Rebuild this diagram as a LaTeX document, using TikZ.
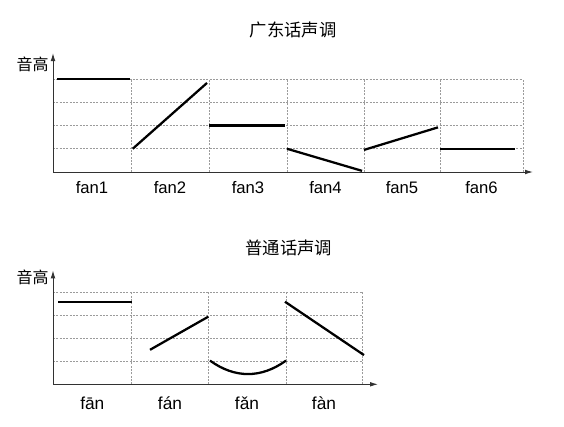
\documentclass[tikz,border=0pt]{standalone}
\usepackage{fontspec}
\setmainfont{Liberation Sans}
\newfontfamily\cjk{Noto Sans CJK SC}
\usetikzlibrary{arrows.meta}
\definecolor{gridgray}{RGB}{155,155,155}
\definecolor{axisgray}{RGB}{50,50,50}

\begin{document}
\begin{tikzpicture}[x=0.75pt,y=0.75pt,
  gridline/.style={gridgray, line width=0.5pt, dash pattern=on 1.5pt off 1pt},
  axis/.style={axisgray, line width=0.7pt, -{Latex[length=6pt,width=3.5pt]}},
  tone/.style={black, line width=1.7pt},
  lbl/.style={font=\fontsize{12.5}{14}\selectfont},
  ttl/.style={font=\cjk\fontsize{13}{15}\selectfont}]
\useasboundingbox (0,0) rectangle (564,426);

%Cantonese tones
\begin{scope}[shift={(53,254)}]
\def\lv{23.25}
\foreach \i in {1,...,4}{
 \draw[gridline] (0,\i*\lv) -- (470,\i*\lv);
}
\foreach \x in {78,156,234,311,387,470}{
 \draw[gridline] (\x,0) -- (\x,4*\lv);
}
\draw[axis] (0,0) -- (480,0);
\draw[axis] (0,0) -- (0,119);

\node[ttl] (yuetitle) at (240,142) {广东话声调};
\node[ttl,font=\cjk\fontsize{12}{14}\selectfont] (yuepitch) at (-20.5,108) {音高};

\foreach \x/\t [count=\n] in {39/fan1,117/fan2,195/fan3,272.5/fan4,349/fan5,428.5/fan6}{
 \node[lbl] (yue\n) at (\x,-16) {\t};
}

\draw[tone] (4,4*\lv) -- (77,4*\lv);
\draw[tone] (79.7,\lv) -- (154,3.83*\lv);
\draw[tone] (156,2*\lv) -- (232,2*\lv);
\draw[tone] (234,\lv) -- (309,0.05*\lv);
\draw[tone] (311,0.95*\lv) -- (385,1.92*\lv);
\draw[tone] (387,\lv) -- (462,\lv);
\end{scope}

%Mandarin tones
\begin{scope}[shift={(53,41.7)}]
\def\lv{23}
\foreach \i in {1,...,4}{
 \draw[gridline] (0,\i*\lv) -- (309,\i*\lv);
}
\foreach \x in {78,155,233,309}{
 \draw[gridline] (\x,0) -- (\x,4*\lv);
}
\draw[axis] (0,0) -- (325,0);
\draw[axis] (0,0) -- (0,114);

\node[ttl] (putitle) at (235.7,136.3) {普通话声调};
\node[ttl,font=\cjk\fontsize{12}{14}\selectfont] (pupitch) at (-20.5,107.3) {音高};

\foreach \x/\t [count=\n] in {39.3/fān,117/fán,194/fǎn,271/fàn}{
 \node[lbl,font=\fontsize{13}{15}\selectfont] (pu\n) at (\x,-18.7) {\t};
}

\draw[tone] (5.3,3.59*\lv) -- (78.7,3.59*\lv);
\draw[tone] (97,1.5*\lv) -- (155.3,2.94*\lv);
\draw[tone] (157,1.03*\lv) .. controls (182,0.25*\lv) and (208,0.25*\lv) .. (233,1.03*\lv);
\draw[tone] (232,3.59*\lv) -- (311,1.27*\lv);
\end{scope}
\end{tikzpicture}
\end{document}
